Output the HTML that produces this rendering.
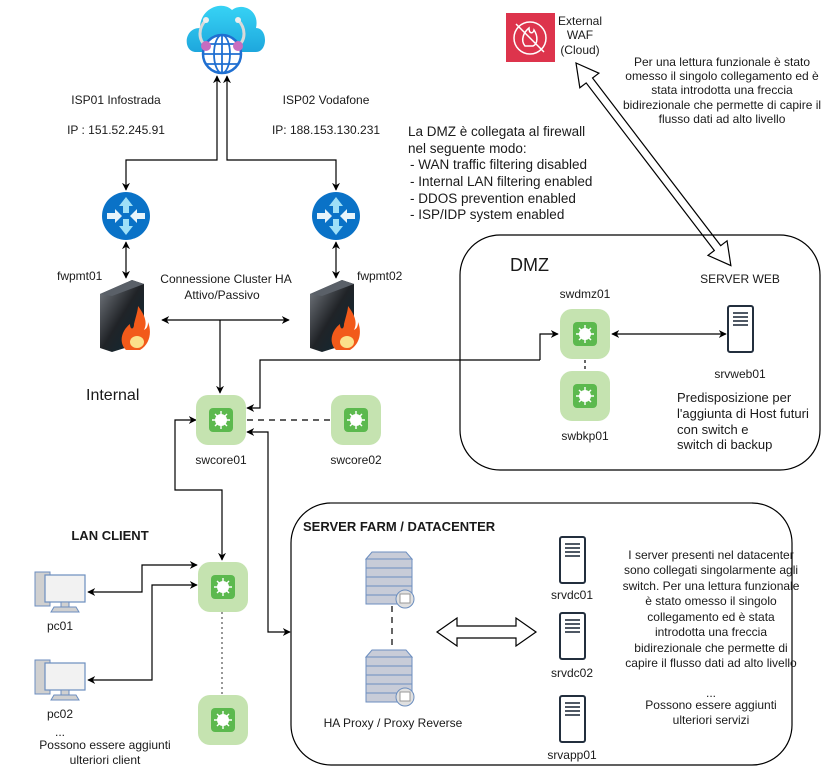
<!DOCTYPE html>
<html><head><meta charset="utf-8"><style>
html,body{margin:0;padding:0;background:#fff;}
svg{display:block;}
text{font-family:"Liberation Sans",Arial,sans-serif;fill:#1a1a1a;}
</style></head><body>
<svg width="828" height="781" viewBox="0 0 828 781" xmlns="http://www.w3.org/2000/svg">
<defs>
<marker id="ar" viewBox="0 0 10 10" refX="9" refY="5" markerWidth="8" markerHeight="8" orient="auto-start-reverse" markerUnits="userSpaceOnUse"><path d="M0,0 L10,5 L0,10 L3,5 z" fill="#000"/></marker>
<linearGradient id="cl" x1="0" y1="0" x2="0" y2="1"><stop offset="0" stop-color="#37d3f5"/><stop offset="1" stop-color="#1ea7dd"/></linearGradient>
<linearGradient id="fw" x1="0" y1="0" x2="1" y2="1"><stop offset="0" stop-color="#7a7f86"/><stop offset="0.5" stop-color="#202327"/><stop offset="1" stop-color="#0b2a38"/></linearGradient>
<g id="sw"><rect x="0" y="0" width="50" height="50" rx="12" fill="#c5e3b0"/><rect x="13" y="13" width="24" height="24" rx="4" fill="#5cb94e"/><circle cx="25" cy="25" r="6" fill="#fff"/><g stroke="#fff" stroke-width="1.4"><line x1="25" y1="16" x2="25" y2="34"/><line x1="16" y1="25" x2="34" y2="25"/><line x1="19" y1="19" x2="31" y2="31"/><line x1="31" y1="19" x2="19" y2="31"/></g></g>
<g id="rt"><circle cx="0" cy="0" r="24" fill="#0a72c7"/><g fill="#9ee0f7"><path d="M0,-19 L-7,-10 L-3,-10 L-3,-3 L3,-3 L3,-10 L7,-10z"/><path d="M0,19 L-7,10 L-3,10 L-3,3 L3,3 L3,10 L7,10z"/></g><g fill="#e8f4fb"><path d="M-4,0 L-11,-7 L-11,-3 L-19,-3 L-19,3 L-11,3 L-11,7z"/><path d="M4,0 L11,-7 L11,-3 L19,-3 L19,3 L11,3 L11,7z"/></g></g>
<g id="fwl"><path d="M8,14 L40,0 L52,4 L52,62 L20,72 L8,68z" fill="url(#fw)"/><path d="M8,14 L40,0 L52,4 L20,16z" fill="#5a6068"/><path d="M34,70 C26,62 30,50 38,44 C38,50 42,50 42,44 C44,36 46,30 46,26 C52,34 56,42 52,50 C56,48 56,44 56,42 C60,52 58,64 48,70z" fill="#f25a1a"/><ellipse cx="45" cy="62" rx="7" ry="6" fill="#fbe08a"/></g>
<g id="srv"><rect x="1" y="1" width="25" height="46" rx="2" fill="#fff" stroke="#232f3e" stroke-width="2"/><g stroke="#232f3e" stroke-width="1.6"><line x1="6" y1="8" x2="21" y2="8"/><line x1="6" y1="12" x2="21" y2="12"/><line x1="6" y1="16" x2="21" y2="16"/><line x1="6" y1="20" x2="21" y2="20"/></g></g>
<g id="pc"><rect x="0" y="0" width="15" height="34" fill="#d0d0d0" stroke="#6c8ebf"/><rect x="10" y="3" width="40" height="27" fill="#f2f2f2" stroke="#6c8ebf" stroke-width="1.2"/><rect x="26" y="30" width="8" height="5" fill="#d0d0d0" stroke="#6c8ebf"/><path d="M16,40 L19,35 L41,35 L44,40z" fill="#d0d0d0" stroke="#6c8ebf"/></g>
<g id="px"><path d="M0,7 L6,0 L40,0 L46,7z" fill="#c8ccd8" stroke="#6c8ebf"/><g fill="#c8ccd8" stroke="#6c8ebf"><rect x="0" y="7" width="46" height="9"/><rect x="0" y="16" width="46" height="9"/><rect x="0" y="25" width="46" height="9"/><rect x="0" y="34" width="46" height="9"/><rect x="0" y="43" width="46" height="9"/></g><circle cx="39" cy="47" r="9" fill="#e0e0e0" stroke="#6c8ebf"/><rect x="34" y="42" width="10" height="9" fill="#fff" stroke="#999"/></g>
</defs>

<!-- cloud -->
<path d="M196,52 C183,52 183,28 200,28 C200,8 222,0 232,10 C242,2 260,10 256,28 C268,28 268,52 256,52z" fill="url(#cl)"/>
<path d="M206,20 C198,28 198,40 206,46 M238,20 C246,28 246,40 238,46" stroke="#d9d9d9" stroke-width="3" fill="none"/>
<circle cx="206" cy="20" r="3" fill="#eee"/><circle cx="238" cy="20" r="3" fill="#eee"/>
<circle cx="222" cy="54" r="19" fill="#fff" stroke="#1f6fd1" stroke-width="2.5"/>
<g stroke="#1f6fd1" stroke-width="1.8" fill="none"><ellipse cx="222" cy="54" rx="8" ry="19"/><line x1="222" y1="35" x2="222" y2="73"/><line x1="203" y1="54" x2="241" y2="54"/><line x1="206" y1="44" x2="238" y2="44"/><line x1="206" y1="64" x2="238" y2="64"/></g>
<circle cx="206" cy="46" r="5" fill="#c86dc0"/><circle cx="238" cy="46" r="5" fill="#c86dc0"/>

<!-- ISP text -->
<g font-size="12" text-anchor="middle"><text x="116" y="104">ISP01 Infostrada</text><text x="116" y="134">IP : 151.52.245.91</text><text x="326" y="104">ISP02 Vodafone</text><text x="326" y="134">IP: 188.153.130.231</text></g>

<!-- ISP lines -->
<g fill="none" stroke="#000" stroke-width="1.2">
<path d="M217,76 L217,160 L126,160 L126,190" marker-start="url(#ar)" marker-end="url(#ar)"/>
<path d="M227,76 L227,160 L336,160 L336,190" marker-start="url(#ar)" marker-end="url(#ar)"/>
<path d="M126,242 L126,278" marker-start="url(#ar)" marker-end="url(#ar)"/>
<path d="M336,242 L336,278" marker-start="url(#ar)" marker-end="url(#ar)"/>
<path d="M162,320 L289,320" marker-start="url(#ar)" marker-end="url(#ar)"/>
<path d="M220,320 L220,393" marker-end="url(#ar)"/>
<path d="M540,360 L260,360 L260,408 L247,408" marker-end="url(#ar)"/>
<path d="M540,360 L540,334 L558,334" marker-end="url(#ar)"/>
<path d="M612,334 L726,334" marker-start="url(#ar)" marker-end="url(#ar)"/>
<path d="M247,432 L268,432 L268,632 L290,632" marker-start="url(#ar)" marker-end="url(#ar)"/>
<path d="M196,420 L175,420 L175,490 L222,490 L222,560" marker-start="url(#ar)" marker-end="url(#ar)"/>
<path d="M88,592 L142,592 L142,565 L197,565" marker-start="url(#ar)" marker-end="url(#ar)"/>
<path d="M88,680 L152,680 L152,585 L197,585" marker-start="url(#ar)" marker-end="url(#ar)"/>
</g>
<line x1="247" y1="420" x2="331" y2="420" stroke="#000" stroke-width="1.2" stroke-dasharray="6,5"/>
<line x1="222" y1="612" x2="222" y2="695" stroke="#777" stroke-width="1.5" stroke-dasharray="2,3"/>
<line x1="585" y1="360" x2="585" y2="371" stroke="#000" stroke-width="1.2" stroke-dasharray="3,3"/>
<line x1="392" y1="606" x2="392" y2="650" stroke="#000" stroke-width="1.2" stroke-dasharray="6,5"/>

<use href="#rt" x="126" y="216"/><use href="#rt" x="336" y="216"/>
<use href="#fwl" x="92" y="280"/><use href="#fwl" x="302" y="280"/>
<g font-size="12"><text x="57" y="280">fwpmt01</text><text x="357" y="280">fwpmt02</text>
<text x="226" y="283" text-anchor="middle">Connessione Cluster HA</text><text x="222" y="299" text-anchor="middle">Attivo/Passivo</text></g>
<text x="86" y="400" font-size="16">Internal</text>

<use href="#sw" x="196" y="395"/><use href="#sw" x="331" y="395"/>
<g font-size="12" text-anchor="middle"><text x="221" y="464">swcore01</text><text x="356" y="464">swcore02</text></g>

<!-- DMZ text -->
<g font-size="13.5"><text x="408" y="136">La DMZ è collegata al firewall</text><text x="408" y="153">nel seguente modo:</text><text x="410" y="169"> - WAN traffic filtering disabled</text><text x="410" y="186"> - Internal LAN filtering enabled</text><text x="410" y="203"> - DDOS prevention enabled</text><text x="410" y="219"> - ISP/IDP system enabled</text></g>

<!-- WAF -->
<rect x="506" y="13" width="49" height="49" fill="#dd344c"/>
<g stroke="#fff" stroke-width="1.5" fill="none"><circle cx="530" cy="38" r="16"/><line x1="516" y1="24" x2="544" y2="52"/><path d="M525,46 C520,40 524,32 529,28 C529,34 533,34 534,30 C538,36 538,44 533,46z"/></g>
<g font-size="12" text-anchor="middle"><text x="580" y="25">External</text><text x="580" y="39">WAF</text><text x="580" y="54">(Cloud)</text></g>
<g transform="translate(576,63) rotate(52.6)"><path d="M0,0 L22,-12 L22,-4 L233,-4 L233,-12 L255,0 L233,12 L233,4 L22,4 L22,12z" fill="#fff" stroke="#000" stroke-width="1.2"/></g>
<g font-size="12" text-anchor="middle"><text x="722" y="66">Per una lettura funzionale è stato</text><text x="722" y="80">omesso il singolo collegamento ed è</text><text x="722" y="94">stata introdotta una freccia</text><text x="722" y="109">bidirezionale che permette di capire il</text><text x="722" y="123">flusso dati ad alto livello</text></g>

<!-- DMZ box -->
<rect x="460" y="235" width="360" height="235" rx="40" fill="none" stroke="#000" stroke-width="1.2"/>
<text x="510" y="271" font-size="18">DMZ</text>
<text x="740" y="283" font-size="12" text-anchor="middle">SERVER WEB</text>
<text x="585" y="298" font-size="12" text-anchor="middle">swdmz01</text>
<use href="#sw" x="560" y="309"/><use href="#sw" x="560" y="371"/>
<text x="585" y="440" font-size="12" text-anchor="middle">swbkp01</text>
<use href="#srv" x="727" y="305"/>
<text x="740" y="378" font-size="12" text-anchor="middle" fill="#232f3e">srvweb01</text>
<g font-size="13"><text x="677" y="402">Predisposizione per</text><text x="677" y="418">l'aggiunta di Host futuri</text><text x="677" y="434">con switch e</text><text x="677" y="449">switch di backup</text></g>

<!-- LAN -->
<text x="110" y="540" font-size="13" font-weight="bold" text-anchor="middle">LAN CLIENT</text>
<use href="#pc" x="35" y="572"/><use href="#pc" x="35" y="660"/>
<g font-size="12" text-anchor="middle"><text x="60" y="630">pc01</text><text x="60" y="718">pc02</text><text x="60" y="736">...</text><text x="105" y="749">Possono essere aggiunti</text><text x="105" y="764">ulteriori client</text></g>
<use href="#sw" x="198" y="562"/><use href="#sw" x="198" y="695"/>

<!-- Server farm -->
<rect x="291" y="503" width="501" height="262" rx="40" fill="none" stroke="#000" stroke-width="1.2"/>
<line x1="330" y1="503" x2="752" y2="503" stroke="#555" stroke-width="1.5"/>
<text x="303" y="531" font-size="13" font-weight="bold">SERVER FARM / DATACENTER</text>
<use href="#px" x="366" y="552"/><use href="#px" x="366" y="650"/>
<text x="393" y="727" font-size="12" text-anchor="middle">HA Proxy / Proxy Reverse</text>
<path d="M437,632 L457,618 L457,626 L516,626 L516,618 L536,632 L516,646 L516,638 L457,638 L457,646z" fill="#fff" stroke="#000" stroke-width="1.2"/>
<use href="#srv" x="559" y="536"/><use href="#srv" x="559" y="612"/><use href="#srv" x="559" y="695"/>
<g font-size="12" text-anchor="middle"><text x="572" y="599">srvdc01</text><text x="572" y="677">srvdc02</text><text x="572" y="759">srvapp01</text>
<text x="711" y="559">I server presenti nel datacenter</text><text x="711" y="574">sono collegati singolarmente agli</text><text x="711" y="590">switch. Per una lettura funzionale</text><text x="711" y="605">è stato omesso il singolo</text><text x="711" y="621">collegamento ed è stata</text><text x="711" y="636">introdotta una freccia</text><text x="711" y="652">bidirezionale che permette di</text><text x="711" y="667">capire il flusso dati ad alto livello</text>
<text x="711" y="697">...</text><text x="711" y="709">Possono essere aggiunti</text><text x="711" y="724">ulteriori servizi</text></g>
</svg>
</body></html>
